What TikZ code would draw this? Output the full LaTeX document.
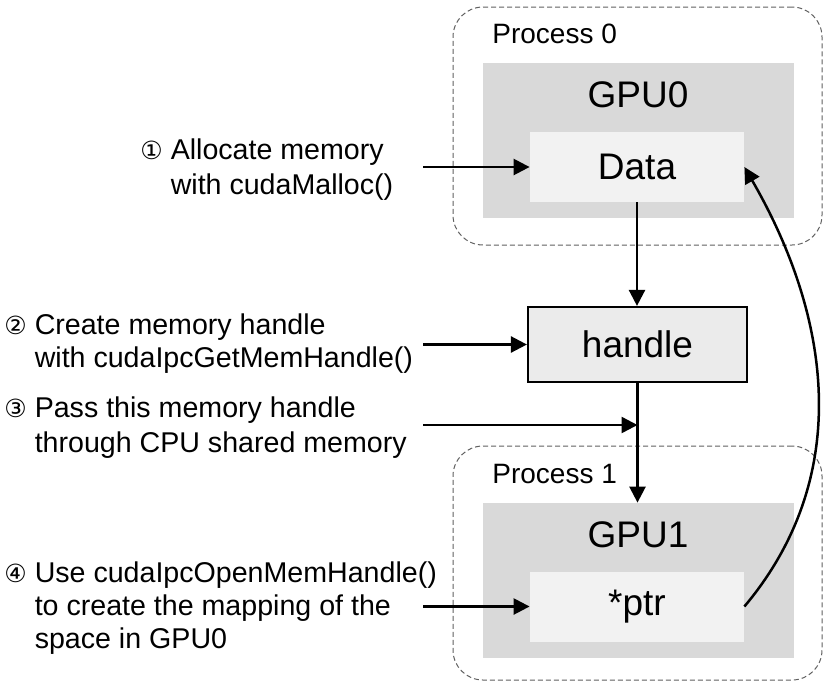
\documentclass[tikz,border=0pt]{standalone}
\usepackage{fontspec}
\setmainfont{Liberation Sans}
\newfontfamily\numfont{DejaVu Sans}
\usetikzlibrary{arrows.meta,positioning,calc}
\definecolor{GpuGray}{HTML}{D9D9D9}
\definecolor{MemGray}{HTML}{F2F2F2}
\definecolor{DashGray}{HTML}{606060}
\newcommand{\stepnum}[1]{{\numfont\fontsize{12.5}{16}\selectfont #1}}
\tikzset{
  procbox/.style={draw=DashGray,dash pattern=on 2.5pt off 1.5pt,rounded corners=15pt,line width=0.5pt,minimum width=184.5pt},
  gpubox/.style={fill=GpuGray,minimum width=155.5pt,minimum height=77.5pt},
  membox/.style={fill=MemGray,minimum width=107pt,minimum height=35pt,font=\fontsize{18.5}{22}\selectfont},
  handlebox/.style={draw=black,line width=1.1pt,fill=MemGray!97!black,minimum width=109.5pt,minimum height=37.5pt,font=\fontsize{18.5}{22}\selectfont},
  biglabel/.style={inner sep=0pt,font=\fontsize{18.5}{22}\selectfont},
  proclabel/.style={inner sep=0pt,anchor=west,font=\fontsize{14}{17}\selectfont},
  steptext/.style={inner sep=0pt,align=left,anchor=west,font=\fontsize{14.3}{16.5}\selectfont},
  flowarrow/.style={-{Triangle[length=8pt,width=8pt]},line width=1.25pt}
}

\begin{document}
\begin{tikzpicture}[x=0.5pt,y=-0.5pt]
\useasboundingbox (0,0) rectangle (830,687);
\node[procbox,minimum height=119pt] (proc0) at (637.5,126) {};
\node[procbox,minimum height=117pt] (proc1) at (637.5,563) {};
\node[gpubox] (gpu0) at (638.5,140.5) {};
\node[gpubox] (gpu1) at (638.5,580.5) {};
\node[membox] (data) at (637,167) {Data};
\node[membox] (ptr) at (637,606.5) {*ptr};
\node[handlebox] (handle) at (637.5,344.5) {handle};
\node[proclabel] (p0lbl) at (492,34) {Process 0};
\node[proclabel] (p1lbl) at (492,474) {Process 1};
\node[biglabel] (g0lbl) at (638,95) {GPU0};
\node[biglabel] (g1lbl) at (638,535) {GPU1};
\node[steptext,font=\fontsize{14.3}{17.5}\selectfont] (s1) at (140,169.5) {\stepnum{①} Allocate memory\\\phantom{\stepnum{①} }with cudaMalloc()};
\node[steptext] (s2) at (4,343.5) {\stepnum{②} Create memory handle\\\phantom{\stepnum{②} }with cudaIpcGetMemHandle()};
\node[steptext,font=\fontsize{14.3}{17.5}\selectfont] (s3) at (4,427.5) {\stepnum{③} Pass this memory handle\\\phantom{\stepnum{③} }through CPU shared memory};
\node[steptext] (s4) at (4,608.5) {\stepnum{④} Use cudaIpcOpenMemHandle()\\\phantom{\stepnum{④} }to create the mapping of the\\\phantom{\stepnum{④} }space in GPU0};
\coordinate (lx) at (423,0);
\coordinate (pass) at (637.5,425);
\draw[flowarrow] (lx |- data.west) -- (data.west);
\draw[flowarrow] (lx |- handle.west) -- (handle.west);
\draw[flowarrow] (lx |- pass) -- (pass);
\draw[flowarrow] (lx |- ptr.west) -- (ptr.west);
\draw[flowarrow] (data.south) -- (data.south |- handle.north);
\draw[flowarrow] (handle.south) -- (handle.south |- gpu1.north);
\draw[flowarrow] (ptr.east) to[out=50,in=-60] (data.east);
\end{tikzpicture}
\end{document}
